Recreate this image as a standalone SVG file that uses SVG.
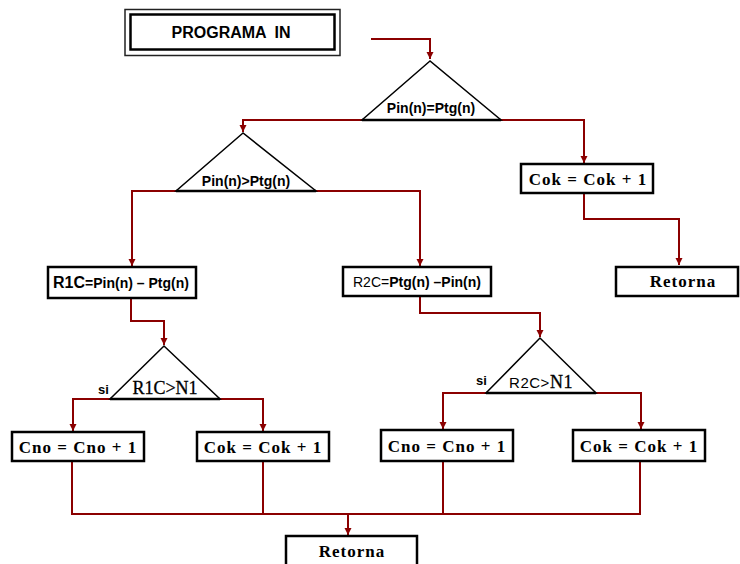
<svg xmlns="http://www.w3.org/2000/svg" width="740" height="564" viewBox="0 0 740 564">
<style>
.box{fill:#fff;stroke:#000;stroke-width:2.5}
.tri{fill:#fff;stroke:#000;stroke-width:1.5;stroke-linejoin:miter}
.base{stroke:#000;stroke-width:2.5}
.c{fill:none;stroke:#8b0000;stroke-width:2;marker-end:url(#ah)}
.cn{fill:none;stroke:#8b0000;stroke-width:2}
.ar{font-family:"Liberation Sans",Arial,sans-serif;font-weight:bold;fill:#000}
.tm{font-family:"Liberation Serif","Times New Roman",serif;font-weight:bold;font-size:17px;letter-spacing:1px;fill:#000;text-anchor:middle}
</style>
<defs>
<marker id="ah" viewBox="0 0 10 10" refX="10" refY="5" markerWidth="7" markerHeight="11" orient="auto" markerUnits="userSpaceOnUse">
<path d="M0,0 L10,5 L0,10 z" fill="#8b0000"/>
</marker>
</defs>
<rect width="740" height="564" fill="#fff"/>

<g id="connectors">
<path class="c" d="M371,39 H430 V59"/>
<path class="c" d="M362,120 H243 V132"/>
<path class="c" d="M501,120 H584 V163"/>
<path class="c" d="M584,193 V219 H679 V265"/>
<path class="c" d="M176,191 H132 V266"/>
<path class="c" d="M316,191 H420 V266"/>
<path class="c" d="M131,298 V321 H164 V345"/>
<path class="c" d="M110,399 H73 V431"/>
<path class="c" d="M220,399 H263 V431"/>
<path class="c" d="M420,296 V313 H540 V337"/>
<path class="c" d="M486,393 H443 V429"/>
<path class="c" d="M596,393 H641 V429"/>
<path class="cn" d="M72,461 V514 H640 V461"/>
<path class="cn" d="M263,461 V514"/>
<path class="cn" d="M443,461 V514"/>
<path class="c" d="M348,514 V535"/>
</g>

<g id="title">
<rect x="125" y="9.5" width="215" height="46" fill="#fff" stroke="#222" stroke-width="1.5"/>
<rect x="130.5" y="14.5" width="204" height="35" fill="none" stroke="#000" stroke-width="2.5"/>
<text class="ar" x="231" y="38" font-size="16" text-anchor="middle" word-spacing="4">PROGRAMA IN</text>
</g>

<g id="d1">
<polygon class="tri" points="430,61 362,120 501,120"/>
<line class="base" x1="362" y1="120" x2="501" y2="120"/>
<text class="ar" x="431" y="113" font-size="14" text-anchor="middle">Pin(n)=Ptg(n)</text>
</g>

<g id="cok0">
<rect class="box" x="521" y="164" width="132" height="29"/>
<text class="tm" x="588" y="185">Cok = Cok + 1</text>
</g>

<g id="ret1">
<rect class="box" x="616" y="267" width="122" height="29"/>
<text class="tm" x="683" y="287" font-size="16" letter-spacing="0.8">Retorna</text>
</g>

<g id="d2">
<polygon class="tri" points="243,133 176,191 316,191"/>
<line class="base" x1="176" y1="191" x2="316" y2="191"/>
<text class="ar" x="246" y="186" font-size="14" text-anchor="middle">Pin(n)&gt;Ptg(n)</text>
</g>

<g id="r1c">
<rect class="box" x="48" y="267" width="148" height="31"/>
<text class="ar" x="53" y="288"><tspan font-size="16">R1C</tspan><tspan font-size="14">=Pin(n) – Ptg(n)</tspan></text>
</g>

<g id="r2c">
<rect class="box" x="343" y="267" width="148" height="29"/>
<text x="353" y="287" font-family="Liberation Sans, Arial, sans-serif" font-size="14" fill="#000"><tspan>R2C=</tspan><tspan font-weight="bold">Ptg(n) –Pin(n)</tspan></text>
</g>

<g id="d3">
<polygon class="tri" points="164,346 110,399 220,399"/>
<line class="base" x1="110" y1="399" x2="220" y2="399"/>
<text x="165" y="394" font-family="Liberation Serif, Times New Roman, serif" font-size="18" text-anchor="middle" fill="#000" stroke="#000" stroke-width="0.3">R1C&gt;N1</text>
<text class="ar" x="98" y="394" font-size="13">si</text>
</g>

<g id="d4">
<polygon class="tri" points="540,338 486,393 596,393"/>
<line class="base" x1="486" y1="393" x2="596" y2="393"/>
<text x="541" y="388" text-anchor="middle" fill="#000" letter-spacing="0.5"><tspan font-family="Liberation Sans, Arial, sans-serif" font-size="15">R2C&gt;</tspan><tspan font-family="Liberation Serif, Times New Roman, serif" font-size="18" stroke="#000" stroke-width="0.3">N1</tspan></text>
<text class="ar" x="476" y="385" font-size="13">si</text>
</g>

<g id="cno1">
<rect class="box" x="12" y="432" width="132" height="29"/>
<text class="tm" x="78" y="453">Cno = Cno + 1</text>
</g>

<g id="cok1">
<rect class="box" x="197" y="432" width="132" height="29"/>
<text class="tm" x="263" y="453">Cok = Cok + 1</text>
</g>

<g id="cno2">
<rect class="box" x="381" y="430" width="132" height="31"/>
<text class="tm" x="447" y="452">Cno = Cno + 1</text>
</g>

<g id="cok2">
<rect class="box" x="573" y="430" width="132" height="31"/>
<text class="tm" x="639" y="452">Cok = Cok + 1</text>
</g>

<g id="ret2">
<rect class="box" x="286" y="536" width="131" height="32"/>
<text class="tm" x="352" y="557" font-size="16" letter-spacing="0.8">Retorna</text>
</g>
</svg>
